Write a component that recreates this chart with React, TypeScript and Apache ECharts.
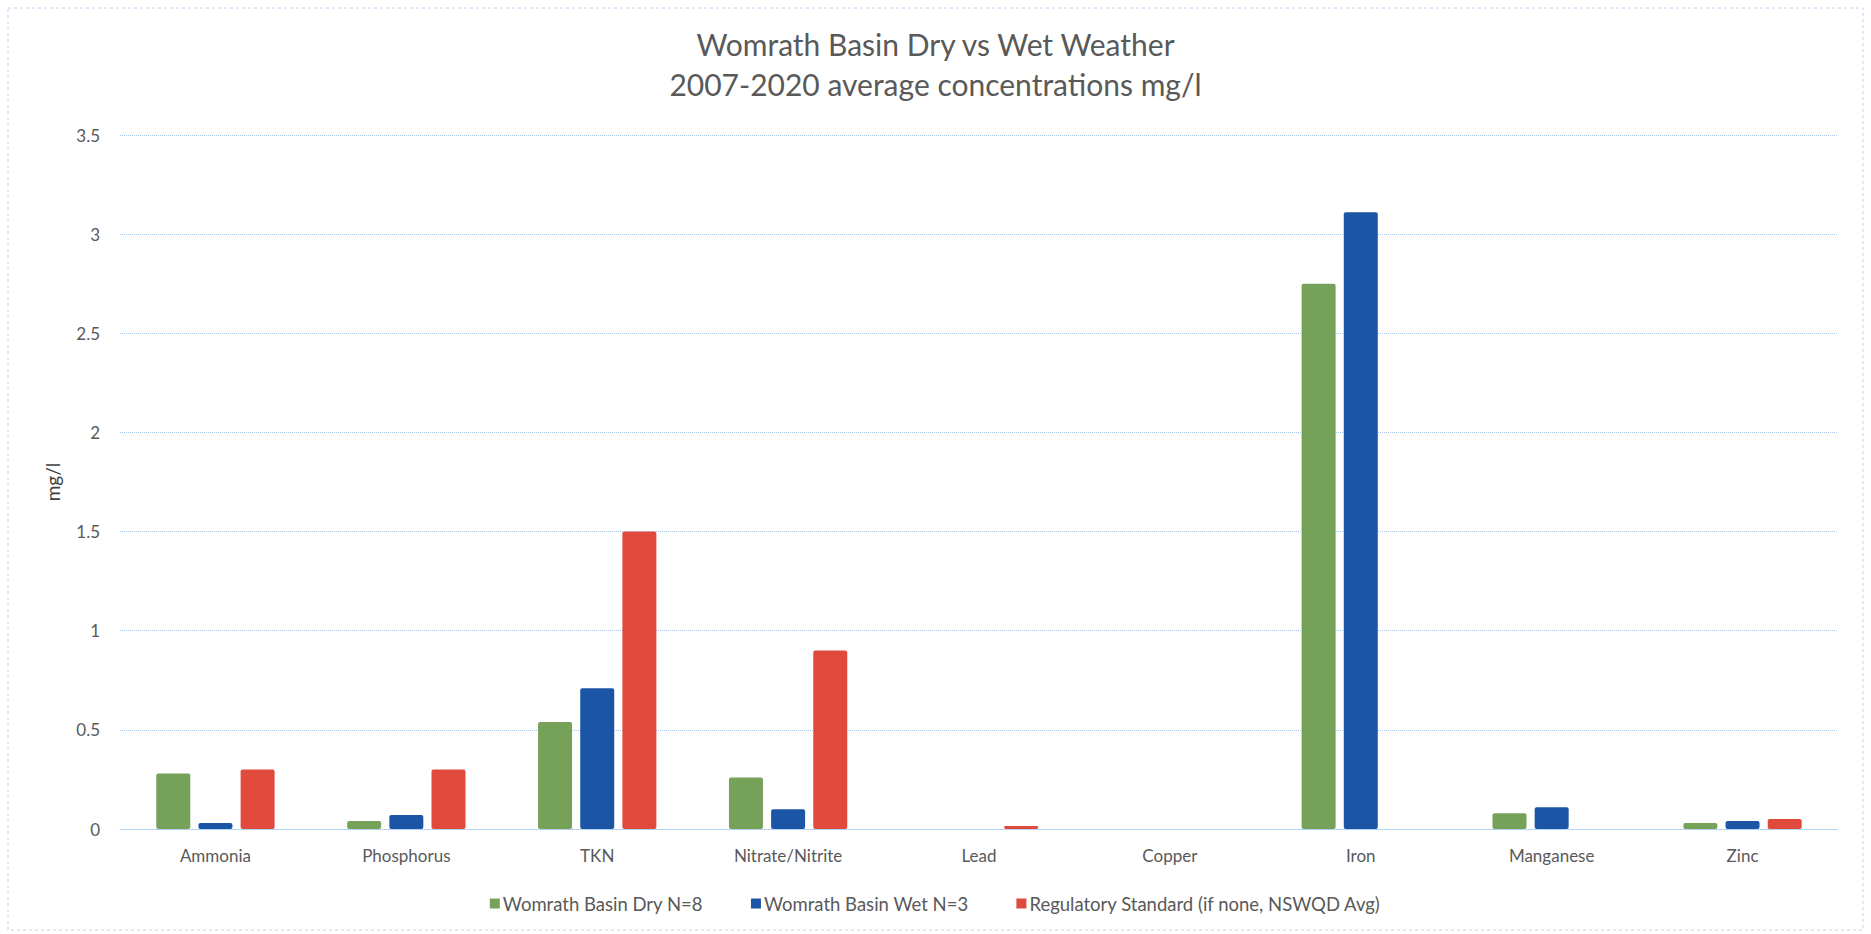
import React, { useEffect, useRef } from "react";
import * as echarts from "echarts";

// Pollutants sampled in the basin
const categories = [
  "Ammonia",
  "Phosphorus",
  "TKN",
  "Nitrate/Nitrite",
  "Lead",
  "Copper",
  "Iron",
  "Manganese",
  "Zinc",
];

// Average concentrations, mg/l
const dryValues = [0.28, 0.04, 0.54, 0.26, 0, 0, 2.75, 0.08, 0.03];
const wetValues = [0.03, 0.07, 0.71, 0.1, 0, 0, 3.11, 0.11, 0.04];
const standardValues = [0.3, 0.3, 1.5, 0.9, 0.015, 0, 0, 0, 0.05];

const seriesNames = [
  "Womrath Basin Dry N=8",
  "Womrath Basin Wet N=3",
  "Regulatory Standard (if none, NSWQD Avg)",
];

const yTicks = [0, 0.5, 1, 1.5, 2, 2.5, 3, 3.5];

const FONT = "Lato";
const GRID_COLOR = "#a8c8ea";

export default function App() {
  const ref = useRef<HTMLDivElement>(null);

  useEffect(() => {
    if (!ref.current) return;
    const chart = echarts.init(ref.current, undefined, { renderer: "svg" });
    const colors = ["#76a159", "#1c55a6", "#e04a3c"];
    const values = [dryValues, wetValues, standardValues];

    chart.setOption({
      animation: false,
      backgroundColor: "#ffffff",
      color: colors,
      title: {
        text: "Womrath Basin Dry vs Wet Weather\n2007-2020 average concentrations mg/l",
        left: "center",
        top: 19,
        textStyle: {
          fontFamily: FONT,
          fontSize: 30,
          fontWeight: "normal",
          color: "#595959",
          lineHeight: 40,
        },
      },
      legend: {
        bottom: 16,
        left: "center",
        itemWidth: 10,
        itemHeight: 10,
        itemGap: 48,
        icon: "rect",
        textStyle: { fontFamily: FONT, fontSize: 18.5, color: "#595959", padding: [0, 0, 0, -2] },
        data: seriesNames,
      },
      grid: { left: 120, right: 33, top: 135, bottom: 105, containLabel: false },
      xAxis: {
        type: "category",
        data: categories,
        axisTick: { show: false },
        axisLine: { show: true, lineStyle: { color: GRID_COLOR, type: "dotted" } },
        axisLabel: {
          fontFamily: FONT,
          fontSize: 17,
          color: "#595959",
          margin: 18,
        },
      },
      yAxis: {
        type: "value",
        min: 0,
        max: 3.5,
        interval: 0.5,
        name: "mg/l",
        nameLocation: "middle",
        nameRotate: 90,
        nameGap: 58,
        nameTextStyle: { fontFamily: FONT, fontSize: 19, color: "#404040" },
        axisLine: { show: false },
        axisTick: { show: false },
        splitLine: { lineStyle: { color: GRID_COLOR, type: "dotted", width: 1 } },
        axisLabel: {
          fontFamily: FONT,
          fontSize: 17,
          color: "#595959",
          margin: 20,
          formatter: (v: number) => (yTicks.includes(v) ? String(v) : ""),
        },
      },
      graphic: [
        {
          type: "rect",
          shape: { x: 8, y: 8, width: 1855, height: 922 },
          style: { fill: "none", stroke: "#bcd4ee", lineWidth: 1, lineDash: [3, 3] },
          silent: true,
        },
      ],
      series: seriesNames.map((name, i) => ({
        name,
        type: "bar",
        data: values[i],
        barWidth: 34,
        barGap: "24%",
        itemStyle: { color: colors[i], borderRadius: 2 },
      })),
    });

    return () => chart.dispose();
  }, []);

  return (
    <div
      ref={ref}
      style={{ position: "absolute", left: 0, top: 0, width: 1871, height: 934 }}
    />
  );
}
